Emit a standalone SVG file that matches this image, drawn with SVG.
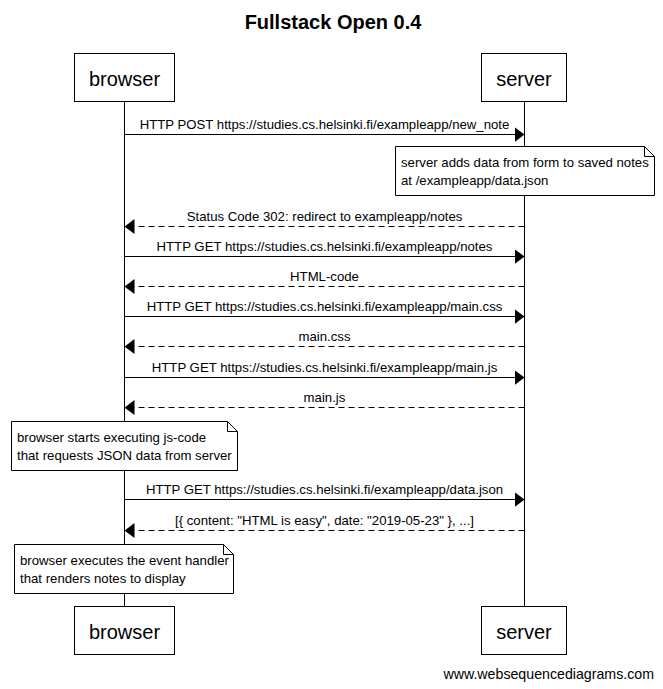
<svg xmlns="http://www.w3.org/2000/svg" width="663" height="689" viewBox="0 0 663 689">
<defs>
<style>
text{font-family:"Liberation Sans",Arial,sans-serif;fill:#000}
.title{font-size:20px;font-weight:bold;text-anchor:middle}
.actor{font-size:20px;text-anchor:middle}
.lbl{font-size:13.2px;text-anchor:middle}
.ntxt{font-size:13.2px}
.box{fill:#fff;stroke:#000;stroke-width:1}
.life{stroke:#000;stroke-width:1;fill:none}
.msg{stroke:#000;stroke-width:1;fill:none;marker-end:url(#ah)}
.ret{stroke:#000;stroke-width:1;fill:none;stroke-dasharray:6,4;marker-end:url(#ah)}
.note{fill:#fff;stroke:#000;stroke-width:1}
.fold{fill:none;stroke:#000;stroke-width:1}
.wm{font-size:14.2px;text-anchor:end}
</style>
<marker id="ah" viewBox="0 0 10 15" refX="10" refY="7.5" markerWidth="10" markerHeight="15" markerUnits="userSpaceOnUse" orient="auto">
<path d="M0,0 L10,7.5 L0,15 Z" fill="#000"/>
</marker>
</defs>
<rect width="663" height="689" fill="#fff"/>
<text class="title" x="333" y="29">Fullstack Open 0.4</text>

<g id="lifelines">
<line class="life" x1="124.5" y1="102" x2="124.5" y2="606"/>
<line class="life" x1="524.5" y1="102" x2="524.5" y2="606"/>
</g>

<g id="browser">
<rect class="box" x="74.5" y="53.5" width="100" height="48"/>
<text class="actor" x="124.5" y="85.5">browser</text>
<rect class="box" x="74.5" y="606.5" width="100" height="48"/>
<text class="actor" x="124.5" y="638.5">browser</text>
</g>
<g id="server">
<rect class="box" x="481.5" y="53.5" width="85" height="48"/>
<text class="actor" x="524" y="85.5">server</text>
<rect class="box" x="481.5" y="606.5" width="85" height="48"/>
<text class="actor" x="524" y="638.5">server</text>
</g>

<g id="connectors">
<line class="msg" x1="124.5" y1="134.5" x2="524.5" y2="134.5"/>
<text class="lbl" x="324.5" y="128.5">HTTP POST https://studies.cs.helsinki.fi/exampleapp/new_note</text>

<line class="ret" x1="524.5" y1="226.5" x2="124.5" y2="226.5"/>
<text class="lbl" x="324.5" y="220.5">Status Code 302: redirect to exampleapp/notes</text>

<line class="msg" x1="124.5" y1="256.5" x2="524.5" y2="256.5"/>
<text class="lbl" x="324.5" y="250.5">HTTP GET https://studies.cs.helsinki.fi/exampleapp/notes</text>

<line class="ret" x1="524.5" y1="286.5" x2="124.5" y2="286.5"/>
<text class="lbl" x="324.5" y="280.5">HTML-code</text>

<line class="msg" x1="124.5" y1="316.5" x2="524.5" y2="316.5"/>
<text class="lbl" x="324.5" y="310.5">HTTP GET https://studies.cs.helsinki.fi/exampleapp/main.css</text>

<line class="ret" x1="524.5" y1="346.5" x2="124.5" y2="346.5"/>
<text class="lbl" x="324.5" y="340.5">main.css</text>

<line class="msg" x1="124.5" y1="377.5" x2="524.5" y2="377.5"/>
<text class="lbl" x="324.5" y="371.5">HTTP GET https://studies.cs.helsinki.fi/exampleapp/main.js</text>

<line class="ret" x1="524.5" y1="407.5" x2="124.5" y2="407.5"/>
<text class="lbl" x="324.5" y="401.5">main.js</text>

<line class="msg" x1="124.5" y1="499.5" x2="524.5" y2="499.5"/>
<text class="lbl" x="324.5" y="493.5">HTTP GET https://studies.cs.helsinki.fi/exampleapp/data.json</text>

<line class="ret" x1="524.5" y1="530.5" x2="124.5" y2="530.5"/>
<text class="lbl" x="324.5" y="524.5">[{ content: "HTML is easy", date: "2019-05-23" }, ...]</text>
</g>

<g id="note1">
<path class="note" d="M395.5,146.5 H644.5 L654.5,156.5 V195.5 H395.5 Z"/>
<path class="fold" d="M644.5,146.5 V156.5 H654.5"/>
<text class="ntxt" x="401" y="167">server adds data from form to saved notes</text>
<text class="ntxt" x="401" y="185">at /exampleapp/data.json</text>
</g>

<g id="note2">
<path class="note" d="M11.5,421.5 H227.5 L237.5,431.5 V470.5 H11.5 Z"/>
<path class="fold" d="M227.5,421.5 V431.5 H237.5"/>
<text class="ntxt" x="17" y="442">browser starts executing js-code</text>
<text class="ntxt" x="17" y="460">that requests JSON data from server</text>
</g>

<g id="note3">
<path class="note" d="M14.5,544.5 H223.5 L233.5,554.5 V593.5 H14.5 Z"/>
<path class="fold" d="M223.5,544.5 V554.5 H233.5"/>
<text class="ntxt" x="20" y="565">browser executes the event handler</text>
<text class="ntxt" x="20" y="583">that renders notes to display</text>
</g>

<text class="wm" x="654" y="679">www.websequencediagrams.com</text>
</svg>
